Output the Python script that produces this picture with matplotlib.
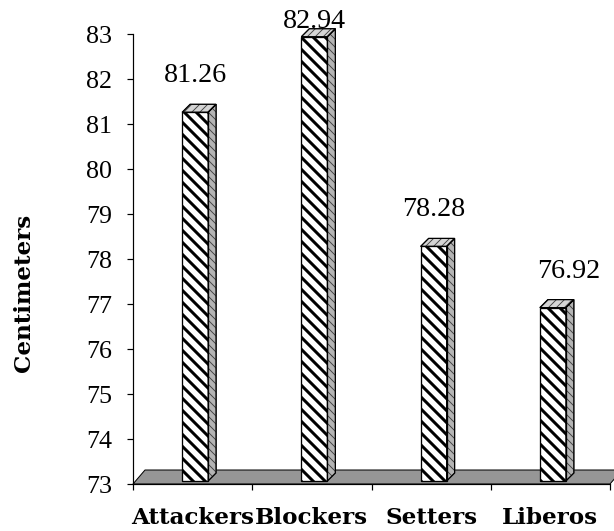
import matplotlib
matplotlib.use("Agg")
import matplotlib.pyplot as plt
from matplotlib.patches import Polygon

# Mean values per playing position (cm)
categories = ["Attackers", "Blockers", "Setters", "Liberos"]
values = [81.26, 82.94, 78.28, 76.92]
value_labels = ["81.26", "82.94", "78.28", "76.92"]
y_ticks = [73, 74, 75, 76, 77, 78, 79, 80, 81, 82, 83]

# horizontal nudge of each value label, in pixels
label_dx = [0, 0, 0, 16]

W, H, DPI = 614, 531, 72
plt.rcParams["hatch.linewidth"] = 3.0

fig = plt.figure(figsize=(W / DPI, H / DPI), dpi=DPI)
ax = fig.add_axes([133 / W, 1 - 484 / H, (610 - 133) / W, (484 - 34) / H])
ax.set_xlim(0, len(categories))
ax.set_ylim(y_ticks[0], y_ticks[-1])

# pixel -> data conversion factors
pos = ax.get_position()
px_x = len(categories) / (pos.width * W)
px_y = (y_ticks[-1] - y_ticks[0]) / (pos.height * H)

y0 = y_ticks[0]

# grey floor under the bars
fdx, fdy = 12 * px_x, 14 * px_y
floor = Polygon([(0, y0), (len(categories), y0),
                 (len(categories) + fdx, y0 + fdy), (fdx, y0 + fdy)],
                closed=True, facecolor="#969696", edgecolor="black",
                linewidth=1.0, clip_on=False, zorder=1)
ax.add_patch(floor)

# pseudo-3D hatched columns
bw = 26 * px_x
ddx, ddy = 8 * px_x, 8 * px_y
base = y0 + 3 * px_y


def thin_hatch(p):
    if hasattr(p, "set_hatch_linewidth"):
        p.set_hatch_linewidth(0.9)


for i, v in enumerate(values):
    xc = i + 0.5 + 2.5 * px_x
    x0, x1 = xc - bw / 2, xc + bw / 2
    front = Polygon([(x0, base), (x1, base), (x1, v), (x0, v)], closed=True,
                    facecolor="white", edgecolor="black", hatch="\\\\",
                    linewidth=1.3, zorder=3, clip_on=False)
    side = Polygon([(x1, base), (x1 + ddx, base + ddy), (x1 + ddx, v + ddy),
                    (x1, v)], closed=True, facecolor="#b4b4b4",
                   edgecolor="#404040", hatch="\\\\\\", linewidth=1.0,
                   zorder=3, clip_on=False)
    top = Polygon([(x0, v), (x1, v), (x1 + ddx, v + ddy), (x0 + ddx, v + ddy)],
                  closed=True, facecolor="#d4d4d4", edgecolor="#404040",
                  hatch="///", linewidth=1.0, zorder=3, clip_on=False)
    thin_hatch(side)
    thin_hatch(top)
    for p in (side, top):
        ax.add_patch(p)
    ax.add_patch(front)
    # outlines in black on top of the thin hatches
    for p in (side, top):
        ax.add_patch(Polygon(p.get_xy(), closed=True, fill=False,
                             edgecolor="black", linewidth=1.2, zorder=4,
                             clip_on=False))
    ly = min(v + 30 * px_y, y_ticks[-1] + 6 * px_y)
    ax.text(xc + label_dx[i] * px_x, ly, value_labels[i], ha="center",
            va="baseline", fontsize=28, family="Liberation Serif",
            color="black", zorder=5, clip_on=False)

# axes styling
for s in ("top", "right"):
    ax.spines[s].set_visible(False)
ax.spines["left"].set_linewidth(1.2)
ax.spines["bottom"].set_linewidth(1.2)
ax.spines["bottom"].set_zorder(2)

ax.set_yticks(y_ticks)
ax.set_yticklabels([str(t) for t in y_ticks], fontsize=26,
                   family="Liberation Serif")
ax.tick_params(axis="y", direction="out", length=6, width=1.2, pad=15)

ax.set_xticks(range(len(categories) + 1))
ax.set_xticklabels([])
ax.tick_params(axis="x", which="major", direction="out", length=6, width=1.2)
ax.set_xticks([i + 0.5 for i in range(len(categories))], minor=True)
ax.set_xticklabels(categories, minor=True, fontsize=23,
                   family="DejaVu Serif", fontweight="bold")
ax.tick_params(axis="x", which="minor", length=0, pad=23)

fig.text(24 / W, 1 - 293 / H, "Centimeters", rotation=90, ha="center",
         va="center", fontsize=23, family="DejaVu Serif", fontweight="bold")

fig.savefig("out.png", dpi=DPI)
